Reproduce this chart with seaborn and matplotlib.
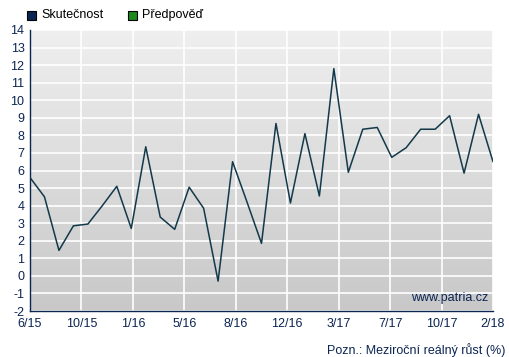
import matplotlib
matplotlib.use('Agg')
import matplotlib.pyplot as plt
import numpy as np
import seaborn as sns
from matplotlib.patches import Rectangle

# monthly values 6/15 .. 2/18
values = [5.6, 4.5, 1.45, 2.85, 2.95, 4.0, 5.1, 2.7, 7.35, 3.35, 2.65, 5.05,
          3.85, -0.3, 6.5, 4.2, 1.85, 8.68, 4.15, 8.1, 4.55, 11.8, 5.9, 8.35,
          8.45, 6.75, 7.3, 8.35, 8.35, 9.12, 5.85, 9.2, 6.5]
tick_labels = ['6/15', '10/15', '1/16', '5/16', '8/16', '12/16', '3/17',
               '7/17', '10/17', '2/18']
y_ticks = list(range(-2, 15))

NAVY = '#0b2553'
LINE = '#12394a'

sns.set_style('white')
plt.rcParams['font.family'] = ['Liberation Sans', 'DejaVu Sans']
plt.rcParams['axes.unicode_minus'] = False

fig = plt.figure(figsize=(5.09, 3.57), dpi=100)
ax = fig.add_axes([30 / 509, 1 - 311 / 357, 463 / 509, 281 / 357])

# grey gradient background
grad = np.linspace(0, 1, 256).reshape(-1, 1)
ax.imshow(grad, cmap=matplotlib.colors.LinearSegmentedColormap.from_list(
    'bg', ['#efefef', '#c8c8c8']), extent=[0, 1, 0, 1],
    transform=ax.transAxes, aspect='auto', zorder=0)

x = np.arange(len(values))
sns.lineplot(x=x, y=values, ax=ax, color=LINE, linewidth=1.1, zorder=3)

ax.set_xlim(0, len(values) - 1)
ax.set_ylim(-2, 14)
ax.set_xticks(np.linspace(0, len(values) - 1, len(tick_labels)))
ax.set_xticklabels(tick_labels)
ax.set_yticks(y_ticks)
ax.grid(True, color='white', linewidth=1.2, zorder=1)
ax.set_axisbelow(True)

for side in ['top', 'right']:
    ax.spines[side].set_visible(False)
for side in ['left', 'bottom']:
    ax.spines[side].set_color(NAVY)
    ax.spines[side].set_linewidth(1)
ax.tick_params(axis='both', colors=NAVY, labelsize=9, length=3, width=1,
               pad=1, labelcolor=NAVY)
ax.tick_params(axis='x', pad=2)
ax.set_xlabel('')
ax.set_ylabel('')

ax.text(0.99, 0.045, 'www.patria.cz', transform=ax.transAxes, ha='right',
        va='center', color=NAVY, fontsize=9, zorder=4)

# legend
fig.patches.append(Rectangle((27 / 509, 1 - 20 / 357), 9 / 509, 9 / 357,
                             transform=fig.transFigure, facecolor=NAVY,
                             edgecolor='black', linewidth=0.8))
fig.text(41 / 509, 1 - 15 / 357, 'Skutečnost', va='center', ha='left',
         fontsize=9, color='black')
fig.patches.append(Rectangle((128 / 509, 1 - 20 / 357), 9 / 509, 9 / 357,
                             transform=fig.transFigure, facecolor='#1b8a1b',
                             edgecolor='black', linewidth=0.8))
fig.text(142 / 509, 1 - 15 / 357, 'Předpověď', va='center', ha='left',
         fontsize=9, color='black')

fig.text(505 / 509, 1 - 350 / 357, 'Pozn.: Meziroční reálný růst (%)',
         ha='right', va='center', fontsize=9, color=NAVY)

fig.savefig('out.png', dpi=100)
